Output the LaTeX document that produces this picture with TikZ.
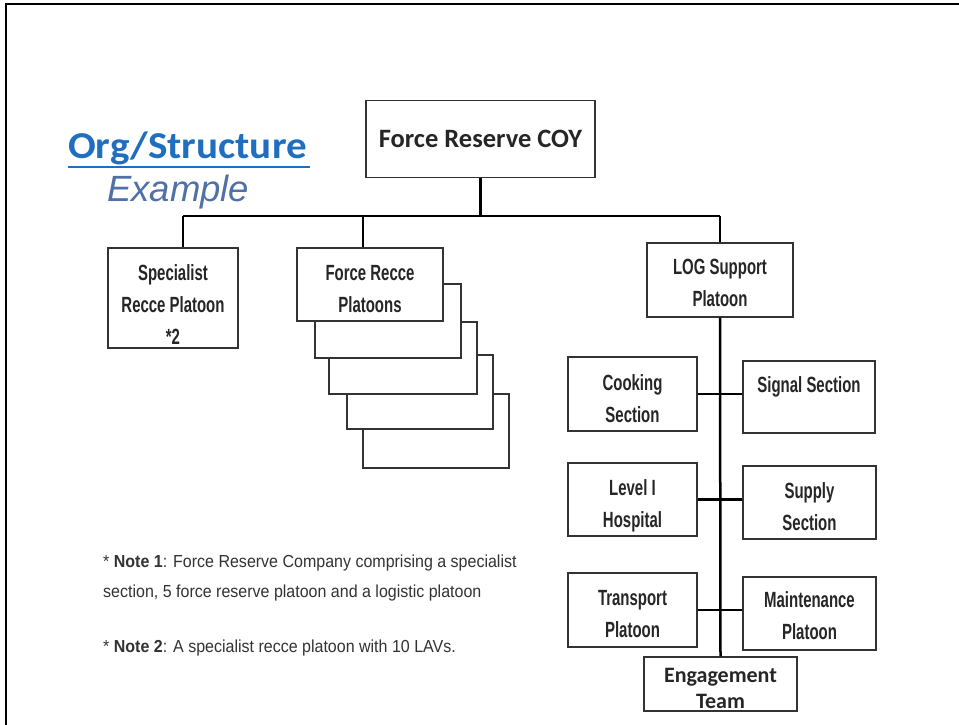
\documentclass[tikz,border=0pt]{standalone}
\usepackage{fontspec}
\setmainfont{Liberation Sans}
\newfontfamily\narrowf[FakeStretch=0.68]{Liberation Sans}
\newfontfamily\notef[FakeStretch=0.92]{Liberation Sans}
\newfontfamily\carlito{Carlito}
\newcommand\toprl{\rule{0pt}{17pt}}
\newcommand\botrl{\rule[-5pt]{0pt}{5pt}}
\definecolor{titleblue}{HTML}{1F6EBF}
\definecolor{exblue}{HTML}{5070A8}
\definecolor{boxline}{HTML}{333333}
\definecolor{notegrey}{HTML}{333333}
\begin{document}
\begin{tikzpicture}[x=1pt,y=-1pt,
  orgbox/.style={draw=boxline, line width=1.2pt, fill=white, inner sep=0pt},
  boxtext/.style={align=center, inner sep=0pt, text=black!85,
    font=\narrowf\bfseries\fontsize{22}{32}\selectfont},
  caltext/.style={boxtext, font=\carlito\bfseries\fontsize{22}{26}\selectfont},
  conn/.style={draw=black, line width=2.5pt},
  notetext/.style={anchor=base west, inner sep=0pt, text=notegrey,
    font=\notef\fontsize{17.4}{20}\selectfont}]
\useasboundingbox (0,0) rectangle (959,725);
\fill[white] (0,0) rectangle (959,725);
% frame
\draw[line width=2.2pt, black] (6,725) -- (6,4) -- (959,4);

% title
\node[anchor=base west, inner sep=0pt, text=titleblue, font=\carlito\bfseries\fontsize{38}{44}\selectfont] (ttl) at (68,158) {\scalebox{1.08}[1]{Org/Structure}};
\draw[titleblue, line width=1.5pt] (68,167) -- (310,167);
\node[anchor=base west, inner sep=0pt, text=exblue, font=\itshape\fontsize{36.5}{40}\selectfont] (ex) at (107,201) {Example};

% top box
\node[orgbox, minimum width=229, minimum height=77] (coy) at (480.5,139) {};
\node[caltext, font=\carlito\bfseries\fontsize{26.5}{30}\selectfont] (coyt) at (coy.center) {Force Reserve COY};

% level 2
\node[orgbox, minimum width=130, minimum height=100] (spec) at (173,298) {};
\node[boxtext] (spect) at ([yshift=-8pt]spec.center) {\toprl Specialist\\Recce Platoon\\*2\botrl};
\node[orgbox, minimum width=146, minimum height=74] (fr5) at (436,431) {};
\node[orgbox, minimum width=146, minimum height=74] (fr4) at (420,392) {};
\node[orgbox, minimum width=148, minimum height=72] (fr3) at (403,358) {};
\node[orgbox, minimum width=146, minimum height=74] (fr2) at (388,321) {};
\node[orgbox, minimum width=146, minimum height=73] (fr1) at (370,284.5) {};
\node[boxtext] (fr1t) at ([yshift=-5.5pt]fr1.center) {\toprl Force Recce\\Platoons\botrl};
\node[orgbox, minimum width=146, minimum height=74] (log) at (720,280) {};
\node[boxtext] (logt) at ([yshift=-4pt]log.center) {\toprl LOG Support\\Platoon\botrl};

% level 3
\node[orgbox, minimum width=129, minimum height=74] (cook) at (632.5,394) {};
\node[boxtext] (cookt) at ([yshift=-6pt]cook.center) {\toprl Cooking\\Section\botrl};
\node[orgbox, minimum width=132, minimum height=72] (sig) at (809,397) {};
\node[boxtext, anchor=base] (sigt) at ([yshift=5pt]sig.center) {Signal Section};
\node[orgbox, minimum width=129, minimum height=73] (lvl) at (632.5,499.5) {};
\node[boxtext] (lvlt) at ([yshift=-5.5pt]lvl.center) {\toprl Level I\\Hospital\botrl};
\node[orgbox, minimum width=133, minimum height=73] (sup) at (809.5,502.5) {};
\node[boxtext] (supt) at ([yshift=-5.5pt]sup.center) {\toprl Supply\\Section\botrl};
\node[orgbox, minimum width=129, minimum height=74] (trn) at (632.5,610) {};
\node[boxtext] (trnt) at ([yshift=-5pt]trn.center) {\toprl Transport\\Platoon\botrl};
\node[orgbox, minimum width=133, minimum height=73] (mnt) at (809.5,613.5) {};
\node[boxtext] (mntt) at ([yshift=-3.5pt]mnt.center) {\toprl Maintenance\\Platoon\botrl};
\node[orgbox, minimum width=153, minimum height=54] (eng) at (720.5,684) {};
\node[caltext] (engt) at ([yshift=-4pt]eng.center) {Engagement\\Team};

% connectors
\coordinate (busL) at (183,216);
\coordinate (busM) at (363,216);
\coordinate (busR) at (720,216);
\draw[conn] (coy.south) -- (coy.south |- busL);
\draw[conn] (busL) -- (busR);
\draw[conn] (busL) -- (busL |- spec.north);
\draw[conn] (busM) -- (busM |- fr1.north);
\draw[conn] (busR) -- (log.north);
\draw[conn] (log.south) -- (eng.north);
\draw[conn] (cook.east) -- (cook.east -| sig.west);
\draw[conn] (lvl.east) -- (lvl.east -| sup.west);
\draw[conn] (trn.east) -- (trn.east -| mnt.west);

% notes
\node[notetext] (n1) at (103,567) {* \textbf{Note 1}: Force Reserve Company comprising a specialist};
\node[notetext] (n1b) at (103,597) {section, 5 force reserve platoon and a logistic platoon};
\node[notetext] (n2) at (103,652) {* \textbf{Note 2}: A specialist recce platoon with 10 LAVs.};
\end{tikzpicture}
\end{document}
